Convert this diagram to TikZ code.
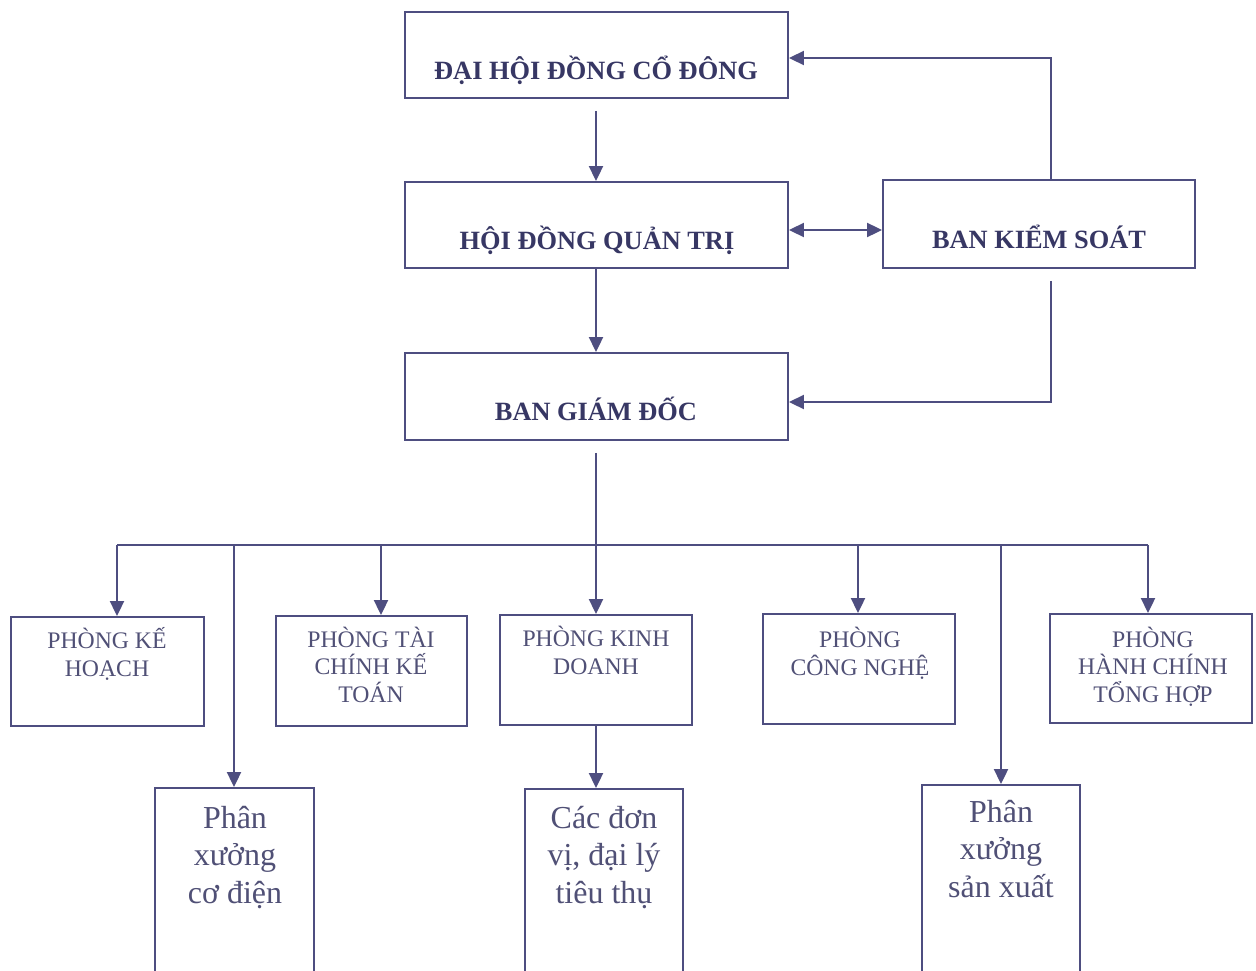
\documentclass[tikz,border=0pt]{standalone}
\usepackage{fontspec}
\setmainfont{Liberation Serif}
\usetikzlibrary{arrows.meta,fit,calc}
\definecolor{lc}{RGB}{78,78,128}
\definecolor{tc}{RGB}{55,55,100}
\definecolor{tc2}{RGB}{80,80,118}
\tikzset{
  box/.style={draw=lc, line width=1.1pt, inner sep=0pt},
  conn/.style={draw=lc, line width=1.2pt},
  tip/.tip={Triangle[length=3mm,width=2.8mm]},
  arr/.style={conn, -tip},
  darr/.style={conn, tip-tip},
  toptxt/.style={text=tc, font=\fontsize{15}{18}\selectfont\bfseries, anchor=base, inner sep=0pt},
  midtxt/.style={text=tc2, font=\fontsize{13.5}{15.6}\selectfont, anchor=base, align=center, inner sep=0pt},
  bottxt/.style={text=tc2, font=\fontsize{18.2}{21.3}\selectfont, anchor=base, align=center, inner sep=0pt}
}
\begin{document}
\begin{tikzpicture}[x=0.02cm, y=-0.02cm]
\clip (0,0) rectangle (1256,970);
\fill[white] (0,0) rectangle (1256,970);
% boxes
\node[box, fit={(405,12)(788,98)}] (dh) {};
\node[box, fit={(405,182)(788,268)}] (hd) {};
\node[box, fit={(883,180)(1195,268)}] (bk) {};
\node[box, fit={(405,353)(788,440)}] (bg) {};
\node[box, fit={(11,617)(204,726)}] (kh) {};
\node[box, fit={(276,616)(467,726)}] (tk) {};
\node[box, fit={(500,615)(692,725)}] (kd) {};
\node[box, fit={(763,614)(955,724)}] (cn) {};
\node[box, fit={(1050,614)(1252,723)}] (hc) {};
\node[box, fit={(155,788)(314,980)}] (xc) {};
\node[box, fit={(525,789)(683,980)}] (dv) {};
\node[box, fit={(922,785)(1080,980)}] (xs) {};
% texts (anchor = baseline of last line)
\node[toptxt] (dht) at (596,79) {ĐẠI HỘI ĐỒNG CỔ ĐÔNG};
\node[toptxt] (hdt) at (597,249) {HỘI ĐỒNG QUẢN TRỊ};
\node[toptxt] (bkt) at (1039,248) {BAN KIỂM SOÁT};
\node[toptxt] (bgt) at (596,420) {BAN GIÁM ĐỐC};
\node[midtxt] (kht) at (107,676) {PHÒNG KẾ\\HOẠCH};
\node[midtxt] (tkt) at (371,702) {PHÒNG TÀI\\CHÍNH KẾ\\TOÁN};
\node[midtxt] (kdt) at (596,674) {PHÒNG KINH\\DOANH};
\node[midtxt] (cnt) at (860,675) {PHÒNG\\CÔNG NGHỆ};
\node[midtxt] (hct) at (1153,702) {PHÒNG\\HÀNH CHÍNH\\TỔNG HỢP};
\node[bottxt] (xct) at (235,903) {Phân\\xưởng\\cơ điện};
\node[bottxt] (dvt) at (604,903) {Các đơn\\vị, đại lý\\tiêu thụ};
\node[bottxt] (xst) at (1001,897) {Phân\\xưởng\\sản xuất};
% helper coordinates
\coordinate (kx) at (1051,58);
\coordinate (ky) at (1051,402);
\coordinate (hy) at (800,230);
\coordinate (b1) at (117,545);
\coordinate (b2) at (234,545);
\coordinate (b3) at (381,545);
\coordinate (b4) at (596,545);
\coordinate (b5) at (858,545);
\coordinate (b6) at (1001,545);
\coordinate (b7) at (1148,545);
% connectors
\draw[arr, shorten <=0.24cm] (b4 |- dh.south) -- (b4 |- hd.north);
\draw[arr] (b4 |- hd.south) -- (b4 |- bg.north);
\draw[darr] (hd.east |- hy) -- (bk.west |- hy);
\draw[arr] (bk.north -| kx) -- (kx) -- (kx -| dh.east);
\draw[arr, shorten <=0.24cm] (bk.south -| ky) -- (ky) -- (ky -| bg.east);
\draw[arr, shorten <=0.24cm] (b4 |- bg.south) -- (b4 |- kd.north);
\draw[conn] (b1) -- (b7);
\draw[arr] (b1) -- (b1 |- kh.north);
\draw[arr] (b2) -- (b2 |- xc.north);
\draw[arr] (b3) -- (b3 |- tk.north);
\draw[arr] (b5) -- (b5 |- cn.north);
\draw[arr] (b6) -- (b6 |- xs.north);
\draw[arr] (b7) -- (b7 |- hc.north);
\draw[arr] (b4 |- kd.south) -- (b4 |- dv.north);
\end{tikzpicture}
\end{document}
